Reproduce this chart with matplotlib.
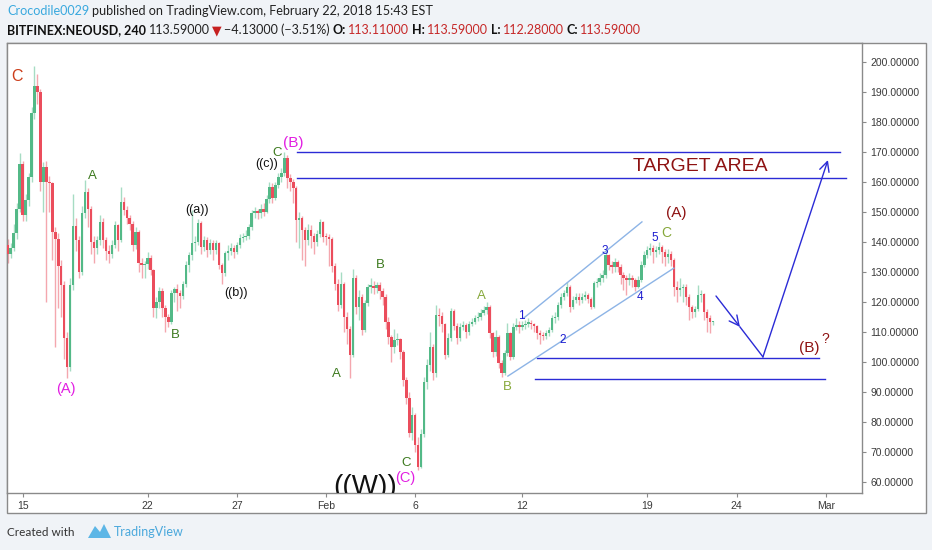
import matplotlib
matplotlib.use("Agg")
import matplotlib.pyplot as plt
from matplotlib.patches import Rectangle, Polygon

# 4h candles of BITFINEX:NEOUSD, first candle is 5 bars before Jan 15 00:00
first_bar = -5
first_open = 139.0
closes = [
    136, 138, 143, 151, 166, 149, 154, 161.5, 183, 192,
    190, 160, 165, 160, 159.5, 143.3, 141, 132, 125.5, 108,
    98.3, 125.5, 145.3, 140.5, 130, 149.4, 156.6, 151, 140, 138,
    140.5, 146.7, 140.5, 137, 136, 139, 145.5, 140.5, 153.3, 150.5,
    148, 146, 139, 143.3, 133, 132.2, 132.4, 134.7, 130.5, 117.8,
    120, 123.5, 118, 115, 113.3, 122.8, 124.1, 122.8, 122, 126,
    132.2, 135.5, 139.5, 140, 146.3, 138.3, 140.6, 137.2, 139.6, 137.2,
    139.6, 132.2, 129.4, 136.1, 136.8, 137.8, 136.5, 138.9, 141.1, 141.5,
    141.9, 145, 149.4, 150.2, 149.4, 151, 150, 154.1, 158.3, 154.5,
    158.9, 161.7, 162.8, 167.8, 161.1, 160, 157.8, 147.2, 147.8, 143.9,
    140.6, 144, 142, 140, 142.5, 146.4, 141.7, 141.5, 141, 132,
    126, 119, 126, 115, 111, 102.2, 127.8, 118.3, 121.5, 110.6,
    119.5, 125, 125.2, 124.5, 125.6, 123.4, 121.7, 113.3, 108.3, 105,
    107.2, 107.5, 103.3, 93.9, 87.8, 76.1, 82.2, 72.2, 65, 76,
    93.3, 99, 105, 96.1, 115.6, 115.2, 112.5, 102.2, 108, 116.8,
    112, 107.8, 111.7, 112.2, 110, 112.7, 113.3, 114.4, 115, 116.2,
    117.3, 118.3, 109.5, 103.3, 108.3, 99.5, 96.1, 102.8, 109.5, 101.7,
    111.7, 112.2, 111.4, 112.2, 112.7, 113, 112.5, 111.8, 109.5, 108.9,
    108.6, 109.6, 110.6, 114.4, 114.9, 118.9, 121.7, 122.8, 124.8, 118.3,
    120.5, 121.7, 120.6, 121.5, 122.2, 121.0, 118.3, 126.1, 126.5, 127.8,
    128.9, 135.6, 132.2, 131.7, 133.2, 131.7, 128.9, 127.8, 127.2, 128.0,
    127.2, 125, 127.2, 132.2, 135.6, 137.2, 137.8, 136.7, 137.2, 138.3,
    136.5, 135, 136, 133.9, 125, 123.9, 124.5, 125, 121.7, 118.3,
    116.7, 117.5, 122.2, 122.5, 116.7, 114.5, 113.11, 113.59,
]
highs = [
    141, 139.5, 146, 153, 169.4, 167, 156, 163, 185, 198.5,
    196, 191, 166.5, 167, 162, 160, 145, 143, 134, 127,
    110, 128, 156, 148, 142, 152, 160.5, 158, 152, 142,
    142, 149, 148, 141.5, 139, 140.5, 147, 146, 158.3, 155,
    152, 149, 147, 145, 144, 134.5, 133.5, 136.5, 135.5, 131,
    121.5, 125, 124.5, 119, 116, 124, 125, 126, 124, 127,
    133.5, 136.5, 150.5, 142, 147.5, 147, 142, 141.5, 141, 140.5,
    140.5, 140, 133, 137, 139, 139.5, 139, 140, 142.5, 143,
    144, 146, 150.5, 151.5, 151, 152.5, 153, 155.5, 160, 159.5,
    160, 163, 164.5, 170, 169, 162.5, 161, 158.5, 150, 148.5,
    145, 146, 145.5, 143, 144, 147.5, 147, 143, 142.5, 141.5,
    133, 127.5, 130, 126.5, 116.5, 112, 131, 129, 124, 122.5,
    120.5, 126, 127.8, 127, 126.5, 126.5, 124.5, 122.5, 115, 109,
    111, 109.5, 108, 104, 95, 90, 85, 83, 75, 77.5,
    95, 101, 110, 106, 118.9, 118, 116.5, 113, 109.5, 118,
    117.5, 113, 113, 113.5, 113, 113.5, 114.5, 115.5, 116.5, 117.5,
    118.5, 119.8, 119, 110, 110.5, 109, 100.5, 104, 113, 110,
    113, 114.5, 113.5, 113.5, 114, 114.5, 113.8, 113, 112.3, 110.5,
    110, 110.5, 111.5, 115.5, 116.5, 120, 123, 124, 126.5, 125.5,
    122, 123, 123, 123, 123.5, 123, 121.5, 127, 128, 129.5,
    130.5, 137, 136, 133.5, 134.5, 134, 132.5, 130, 129, 129.5,
    129, 128, 128.5, 133.5, 137, 138.5, 139.5, 139, 138.5, 140,
    139, 137.5, 137.5, 137, 134.5, 127, 128, 126, 126, 122.5,
    119, 118.5, 125.5, 124, 123, 117.5, 115.5, 113.59,
]
lows = [
    133, 134.5, 137, 141, 150, 147, 147, 152, 160, 181,
    186, 157, 150, 120, 150, 134, 105, 118, 115, 101,
    94.5, 97, 124, 137, 128, 129, 148, 145, 136, 133,
    136, 139, 138, 134, 133, 134.5, 138, 137, 140, 149,
    146, 144, 137, 137.5, 130, 127.8, 127.8, 131, 129, 115,
    114.4, 118, 115, 110, 111.7, 112.5, 120, 117, 118, 121,
    125, 130, 134, 137, 139, 136, 137, 135, 136, 134,
    136, 131, 126, 128.5, 134, 135.5, 134.5, 136, 138, 140,
    140.5, 141, 144, 148, 147.5, 148, 148.5, 149.5, 153, 153,
    154, 158, 160, 162, 158, 157, 153, 140, 138, 134,
    132, 139, 138, 136, 138.5, 141.5, 140, 139, 132, 130,
    124, 117, 118, 110, 106, 94.5, 101.5, 116, 114, 109,
    110, 118.5, 123, 122.5, 123, 121, 119, 111, 106, 100,
    103, 105.5, 101, 92, 86, 75, 74, 70, 64, 64.5,
    75, 91, 97, 94, 95, 112, 110, 101, 101.5, 107,
    110.5, 106, 107, 110.5, 108, 109, 112, 112.5, 113.5, 114,
    115.5, 116, 108, 101.5, 102, 98, 95, 95.5, 102, 100.5,
    101, 110.5, 109.5, 110.5, 111, 111.5, 111, 110, 107.5, 106,
    107.2, 107.5, 108.5, 110, 113, 114, 118, 120.5, 122, 116.5,
    117.5, 119.5, 119, 119.5, 120.5, 119.5, 117.5, 118, 125, 125.5,
    126.5, 128, 130.5, 129.5, 130, 130, 126, 124, 122.2, 125.5,
    125, 123.5, 124.5, 126.5, 131.5, 134.5, 135.5, 133, 135, 136,
    133, 132, 133, 132, 122, 120, 122, 120, 119, 114,
    114.5, 115, 117, 120, 114, 110, 109.5, 112.28,
]

# x axis: days after Jan 15 00:00
tick_days = [0, 7, 12, 17, 22, 28, 35, 40, 45]
tick_names = ["15", "22", "27", "Feb", "6", "12", "19", "24", "Mar"]
price_ticks = list(range(60, 201, 10))

target_top = 170.0
target_bottom = 161.1
support_top = 101.1
support_bottom = 94.3

GREEN = "#53b987"
RED = "#eb4d5c"
GREEN_WICK = "#a6dcc3"
RED_WICK = "#f4a7ae"
LINE_BLUE = "#2b2bd6"
CHAN_BLUE = "#8db4e6"
DARK_RED = "#8e1212"
MAGENTA = "#e21ee2"
WAVE_GREEN = "#3d7a1f"
OLIVE = "#86a83a"
NUM_BLUE = "#1c1cd0"

W, H = 932, 550
fig = plt.figure(figsize=(W / 100, H / 100), dpi=100)
fig.patch.set_facecolor("#f0f3f7")


def px(x, y):
    return x / W, 1 - y / H


# white chart frame, behind the axes
fig.patches.append(Rectangle(px(7, 513), 919 / W, 470 / H, transform=fig.transFigure,
                             facecolor="white", edgecolor="#8a8a8a", lw=1, zorder=-5))

ax = fig.add_axes([7 / W, 57 / H, 855 / W, 450 / H])
ax.set_xlim(-0.874, 47.03)
ax.set_ylim(56.23, 206.23)
ax.set_facecolor("white")
for s in ax.spines.values():
    s.set_color("#8a8a8a")
    s.set_linewidth(1)

opens = [first_open] + closes[:-1]
xs = [(first_bar + i) / 6 for i in range(len(closes))]
body_w = 0.135
for x, o, h, l, c in zip(xs, opens, highs, lows, closes):
    up = c >= o
    ax.vlines(x, l, h, color=GREEN_WICK if up else RED_WICK, lw=1, zorder=2)
    lo_b = min(o, c)
    hb = max(abs(c - o), 0.4)
    ax.bar(x, hb, bottom=lo_b, width=body_w, color=GREEN if up else RED,
           lw=0, zorder=3)

# horizontal levels
ax.plot([15.37, 45.79], [target_top, target_top], color=LINE_BLUE, lw=1, zorder=4)
ax.plot([15.37, 46.13], [target_bottom, target_bottom], color=LINE_BLUE, lw=1, zorder=4)
ax.plot([28.82, 44.62], [support_top, support_top], color=LINE_BLUE, lw=1, zorder=4)
ax.plot([28.71, 44.95], [support_bottom, support_bottom], color=LINE_BLUE, lw=1, zorder=4)

# channel
ax.plot([28.09, 34.70], [114.6, 146.6], color=CHAN_BLUE, lw=1, zorder=4)
ax.plot([27.19, 36.49], [95.2, 131.2], color=CHAN_BLUE, lw=1, zorder=4)

# projected path
ax.annotate("", xy=(40.19, 111.6), xytext=(38.85, 121.9),
            arrowprops=dict(arrowstyle="->,head_length=0.7,head_width=0.35",
                            color=LINE_BLUE, lw=1, shrinkA=0, shrinkB=0))
ax.plot([40.19, 41.48], [111.6, 101.6], color=LINE_BLUE, lw=1)
ax.annotate("", xy=(45.12, 167.2), xytext=(41.48, 101.6),
            arrowprops=dict(arrowstyle="->,head_length=0.7,head_width=0.35",
                            color=LINE_BLUE, lw=1, shrinkA=0, shrinkB=0))

labels = [
    ("C", -0.31, 194.9, "#cc3d1a", 11.5),
    ("(A)", 2.43, 90.9, MAGENTA, 10.5),
    ("A", 3.89, 161.9, WAVE_GREEN, 9.5),
    ("B", 8.54, 108.9, WAVE_GREEN, 9.5),
    ("((a))", 9.77, 150.6, "#111111", 9),
    ("((b))", 11.96, 122.9, "#111111", 9),
    ("((c))", 13.69, 165.9, "#111111", 9),
    ("C", 14.25, 169.6, WAVE_GREEN, 9.5),
    ("(B)", 15.15, 172.9, MAGENTA, 11),
    ("A", 17.56, 95.9, WAVE_GREEN, 9.5),
    ("B", 20.02, 132.2, WAVE_GREEN, 9.5),
    ("C", 21.48, 66.2, WAVE_GREEN, 9.5),
    ("(C)", 21.42, 61.2, MAGENTA, 10.5),
    ("A", 25.68, 121.9, OLIVE, 9.5),
    ("B", 27.14, 91.6, OLIVE, 9.5),
    ("1", 27.92, 115.2, NUM_BLUE, 8.5),
    ("2", 30.27, 107.2, NUM_BLUE, 8.5),
    ("3", 32.63, 136.9, NUM_BLUE, 8.5),
    ("4", 34.59, 121.6, NUM_BLUE, 8.5),
    ("5", 35.43, 141.2, NUM_BLUE, 8.5),
    ("C", 36.04, 142.9, OLIVE, 10),
    ("(A)", 36.6, 149.6, DARK_RED, 11),
    ("TARGET AREA", 37.95, 165.2, DARK_RED, 14),
    ("(B)", 44.06, 104.6, DARK_RED, 11),
]
for txt, x, y, col, fs in labels:
    ax.text(x, y, txt, color=col, fontsize=fs, ha="center", va="center",
            family="Liberation Sans", zorder=5)
ax.text(44.95, 107.6, "?", color=DARK_RED, fontsize=10, ha="center", va="center",
        family="Liberation Sans", zorder=5)
ax.text(19.18, 62.6, "((W))", color="#111111", fontsize=20, ha="center", va="top",
        family="Liberation Sans", zorder=5, clip_on=True)

ax.yaxis.tick_right()
ax.set_yticks(price_ticks)
ax.set_yticklabels([f"{v:.5f}" for v in price_ticks])
ax.set_xticks(tick_days)
ax.set_xticklabels(tick_names)
ax.tick_params(axis="both", direction="out", length=3, color="#8a8a8a",
               labelsize=7.5, labelcolor="#3a3a3a", pad=3)
for t in ax.get_xticklabels() + ax.get_yticklabels():
    t.set_family("Liberation Sans")

# header and footer text
renderer = fig.canvas.get_renderer()
HFONT = ["Lato", "DejaVu Sans"]


def chain(x0, y0, parts, width):
    # lay the pieces one after another, then scale the font to the wanted width
    def lay(size):
        x = x0
        arts = []
        for txt, col, wt in parts:
            t = fig.text(x / W, 1 - y0 / H, txt, color=col, fontsize=size,
                         fontweight=wt, family=HFONT, va="center", ha="left")
            bb = t.get_window_extent(renderer)
            x = bb.x1 + 2.5
            arts.append(t)
        return arts, x - 2.5 - x0
    arts, w = lay(10)
    for a in arts:
        a.remove()
    lay(10 * width / w)


chain(7, 11, [("Crocodile0029", "#3aa9de", "normal"),
              ("published on TradingView.com, February 22, 2018 15:43 EST", "#222222", "normal")],
      426)
chain(7, 30, [("BITFINEX:NEOUSD, 240", "#111111", "bold"),
              ("113.59000", "#222222", "normal"),
              ("\u25bc", "#c62020", "normal"),
              ("\u22124.13000 (\u22123.51%)", "#222222", "normal"),
              ("O:", "#111111", "bold"),
              ("113.11000", "#c62828", "normal"),
              ("H:", "#111111", "bold"),
              ("113.59000", "#c62828", "normal"),
              ("L:", "#111111", "bold"),
              ("112.28000", "#c62828", "normal"),
              ("C:", "#111111", "bold"),
              ("113.59000", "#c62828", "normal")],
      633)

fig.text(7 / W, 1 - 532 / H, "Created with", color="#333333", fontsize=8.5,
         family=HFONT, va="center", ha="left")
logo = [(88, 538), (95, 526), (100, 532), (104, 524), (111, 538)]
fig.patches.append(Polygon([px(a, b) for a, b in logo], closed=True,
                           transform=fig.transFigure, facecolor="#5db6e6",
                           edgecolor="none"))
fig.text(114 / W, 1 - 532 / H, "TradingView", color="#4aa8dc", fontsize=9,
         family=HFONT, va="center", ha="left")

fig.savefig("out.png", dpi=100, facecolor=fig.get_facecolor())
